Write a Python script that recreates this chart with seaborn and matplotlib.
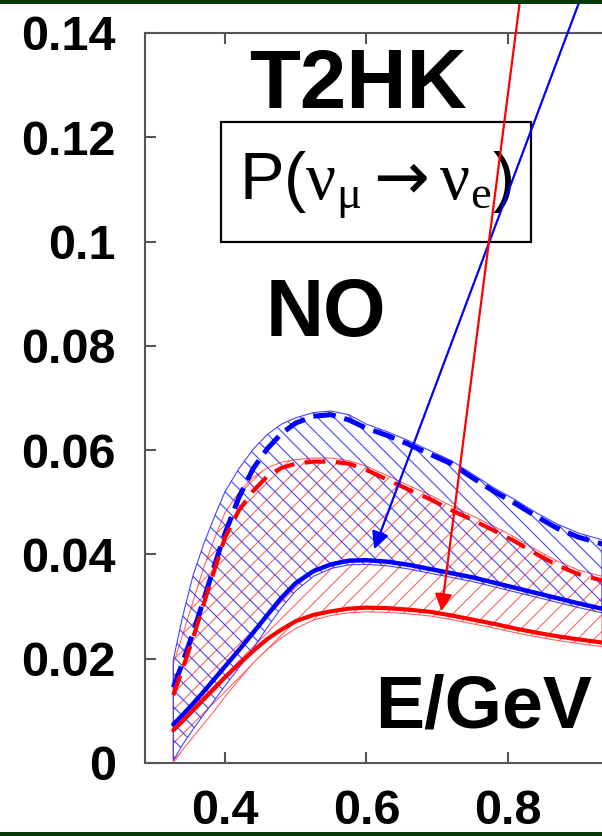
import numpy as np
import pandas as pd
import matplotlib
matplotlib.use("Agg")
import matplotlib.pyplot as plt
import matplotlib.patches as mpatches
import seaborn as sns

# ---------------- data ----------------
E = [0.327, 0.34, 0.355, 0.37, 0.385, 0.40, 0.42, 0.44, 0.46, 0.48, 0.50, 0.525,
     0.55, 0.575, 0.60, 0.63, 0.66, 0.69, 0.72, 0.75, 0.78, 0.81, 0.84, 0.87, 0.90, 0.933]

blue_dashed = [0.0145, 0.0192, 0.0250, 0.0313, 0.0378, 0.0440, 0.0510, 0.0565, 0.0603, 0.0632,
               0.0652, 0.0665, 0.0668, 0.0658, 0.0642, 0.0628, 0.0611, 0.0592, 0.0574, 0.0547,
               0.0521, 0.0498, 0.0473, 0.0450, 0.0433, 0.0420]
red_dashed = [0.0130, 0.0180, 0.0240, 0.0305, 0.0370, 0.0432, 0.0485, 0.0522, 0.0550, 0.0566,
              0.0574, 0.0578, 0.0578, 0.0574, 0.0562, 0.0543, 0.0524, 0.0506, 0.0485, 0.0466,
              0.0446, 0.0425, 0.0401, 0.0379, 0.0362, 0.0350]
blue_solid = [0.0074, 0.0092, 0.0114, 0.0137, 0.0161, 0.0185, 0.0217, 0.0250, 0.0284, 0.0317,
              0.0345, 0.0368, 0.0381, 0.0388, 0.0389, 0.0386, 0.0380, 0.0372, 0.0364, 0.0356,
              0.0346, 0.0336, 0.0326, 0.0316, 0.0306, 0.0296]
red_solid = [0.0063, 0.0080, 0.0101, 0.0122, 0.0143, 0.0164, 0.0190, 0.0215, 0.0238, 0.0256,
             0.0272, 0.0284, 0.0291, 0.0296, 0.0298, 0.0297, 0.0294, 0.0290, 0.0283, 0.0275,
             0.0267, 0.0258, 0.0250, 0.0243, 0.0237, 0.0231]

blue_band_upper = [0.0198, 0.0280, 0.0360, 0.0420, 0.0472, 0.0520, 0.0565, 0.0602, 0.0630, 0.0650,
                   0.0662, 0.0672, 0.0675, 0.0668, 0.0650, 0.0635, 0.0618, 0.0599, 0.0580, 0.0554,
                   0.0528, 0.0505, 0.0480, 0.0458, 0.0441, 0.0428]
blue_band_lower = [0.0005, 0.0035, 0.0065, 0.0093, 0.0120, 0.0148, 0.0183, 0.0220, 0.0260, 0.0298,
                   0.0330, 0.0358, 0.0373, 0.0380, 0.0381, 0.0378, 0.0372, 0.0364, 0.0356, 0.0348,
                   0.0338, 0.0328, 0.0318, 0.0308, 0.0298, 0.0288]
red_band_upper = [0.0190, 0.0245, 0.0310, 0.0375, 0.0430, 0.0480, 0.0520, 0.0548, 0.0566, 0.0577,
                  0.0582, 0.0585, 0.0585, 0.0580, 0.0569, 0.0551, 0.0532, 0.0514, 0.0493, 0.0474,
                  0.0454, 0.0433, 0.0409, 0.0387, 0.0370, 0.0358]
red_band_lower = [0.0000, 0.0025, 0.0050, 0.0075, 0.0100, 0.0127, 0.0160, 0.0192, 0.0218, 0.0240,
                  0.0258, 0.0274, 0.0283, 0.0288, 0.0290, 0.0289, 0.0286, 0.0282, 0.0275, 0.0267,
                  0.0259, 0.0250, 0.0242, 0.0235, 0.0229, 0.0223]

x_ticks = [0.4, 0.6, 0.8]
x_tick_labels = ["0.4", "0.6", "0.8"]
y_ticks = [0, 0.02, 0.04, 0.06, 0.08, 0.1, 0.12, 0.14]
y_tick_labels = ["0", "0.02", "0.04", "0.06", "0.08", "0.1", "0.12", "0.14"]

blue_arrow_target = (0.611, 0.0410)
red_arrow_target = (0.706, 0.0291)

# ---------------- style ----------------
sns.set_style("ticks")
plt.rcParams["font.family"] = ["Liberation Sans", "DejaVu Sans"]
plt.rcParams["hatch.linewidth"] = 0.8
plt.rcParams["mathtext.fontset"] = "custom"
plt.rcParams["mathtext.rm"] = "Liberation Serif"
plt.rcParams["mathtext.it"] = "Liberation Serif"
plt.rcParams["mathtext.sf"] = "DejaVu Sans"

W, H = 602, 836
fig = plt.figure(figsize=(W / 100, H / 100), dpi=100)
fig.patch.set_facecolor("white")

ax_l, ax_r, ax_t, ax_b = 145, 602, 33, 763
ax = fig.add_axes([ax_l / W, (H - ax_b) / H, (ax_r - ax_l) / W, (ax_b - ax_t) / H])

BLUE = "#0000ff"
RED = "#ff0000"

# hatched bands
ax.fill_between(E, red_band_lower, red_band_upper, facecolor="none",
                edgecolor=(1, 0.25, 0.25, 0.8), hatch="//", linewidth=0.8, zorder=1)
ax.fill_between(E, blue_band_lower, blue_band_upper, facecolor="none",
                edgecolor=(0.15, 0.15, 1, 0.85), hatch="\\\\", linewidth=0.8, zorder=1)

df = pd.DataFrame({"E": E, "bd": blue_dashed, "rd": red_dashed,
                   "bs": blue_solid, "rs": red_solid})

sns.lineplot(data=df, x="E", y="bd", ax=ax, color=BLUE, lw=3.6,
             linestyle=(0, (4.5, 1.8)), zorder=3)
sns.lineplot(data=df, x="E", y="bs", ax=ax, color=BLUE, lw=3.2, zorder=3)
sns.lineplot(data=df, x="E", y="rd", ax=ax, color=RED, lw=3.0,
             linestyle=(0, (5, 2.5)), zorder=4)
sns.lineplot(data=df, x="E", y="rs", ax=ax, color=RED, lw=3.0, zorder=4)

# axes
ax.set_xlim(0.287, 0.933)
ax.set_ylim(0, 0.14)
ax.set_xlabel("")
ax.set_ylabel("")
ax.set_xticks(x_ticks)
ax.set_xticklabels(x_tick_labels)
ax.set_yticks(y_ticks)
ax.set_yticklabels(y_tick_labels)
for lab in ax.get_xticklabels() + ax.get_yticklabels():
    lab.set_fontweight("bold")
    lab.set_fontsize(35)
    lab.set_color("black")
ax.tick_params(axis="both", direction="in", length=8, width=1.5, color="#555555")
ax.tick_params(axis="x", top=True, pad=19)
ax.tick_params(axis="y", pad=21)
for s in ["left", "bottom", "top"]:
    ax.spines[s].set_color("#555555")
    ax.spines[s].set_linewidth(1.5)
ax.spines["right"].set_visible(False)

# texts
ax.text(0.466, 0.897, "T2HK", transform=ax.transAxes, ha="center", va="baseline",
        fontsize=60, fontweight="bold", color="black")
ax.text(0.396, 0.585, "NO", transform=ax.transAxes, ha="center", va="baseline",
        fontsize=58, fontweight="bold", color="black")
ax.text(0.740, 0.048, "E/GeV", transform=ax.transAxes, ha="center", va="baseline",
        fontsize=53, fontweight="bold", color="black")

box = mpatches.Rectangle((0.1663, 0.7137), 0.8446 - 0.1663, 0.8781 - 0.7137,
                         transform=ax.transAxes, facecolor="white", edgecolor="black",
                         linewidth=1.6, zorder=5)
ax.add_patch(box)
ax.text(0.5055, 0.771,
        r"P($\mathrm{\nu}_{\mathrm{\mu}}\mathsf{\rightarrow}\mathrm{\nu}_{\mathrm{e}}$)",
        transform=ax.transAxes, ha="center", va="baseline", fontsize=48, color="black",
        zorder=6)

# arrows
ax.annotate("", xy=blue_arrow_target, xycoords="data",
            xytext=(583.7, 846), textcoords="figure pixels",
            arrowprops=dict(arrowstyle="-|>", color=BLUE, lw=1.6, mutation_scale=26,
                            shrinkA=0, shrinkB=0),
            annotation_clip=False, zorder=7)
ax.annotate("", xy=red_arrow_target, xycoords="data",
            xytext=(521.3, 846), textcoords="figure pixels",
            arrowprops=dict(arrowstyle="-|>", color=RED, lw=1.6, mutation_scale=26,
                            shrinkA=0, shrinkB=0),
            annotation_clip=False, zorder=7)

# dark green frame bands at top and bottom
GREEN = "#063a08"
fig.add_artist(mpatches.Rectangle((0, (H - 4) / H), 1, 4 / H, transform=fig.transFigure,
                                  facecolor=GREEN, edgecolor="none", zorder=10))
fig.add_artist(mpatches.Rectangle((0, 0), 1, 4 / H, transform=fig.transFigure,
                                  facecolor=GREEN, edgecolor="none", zorder=10))

fig.savefig("out.png", dpi=100)
